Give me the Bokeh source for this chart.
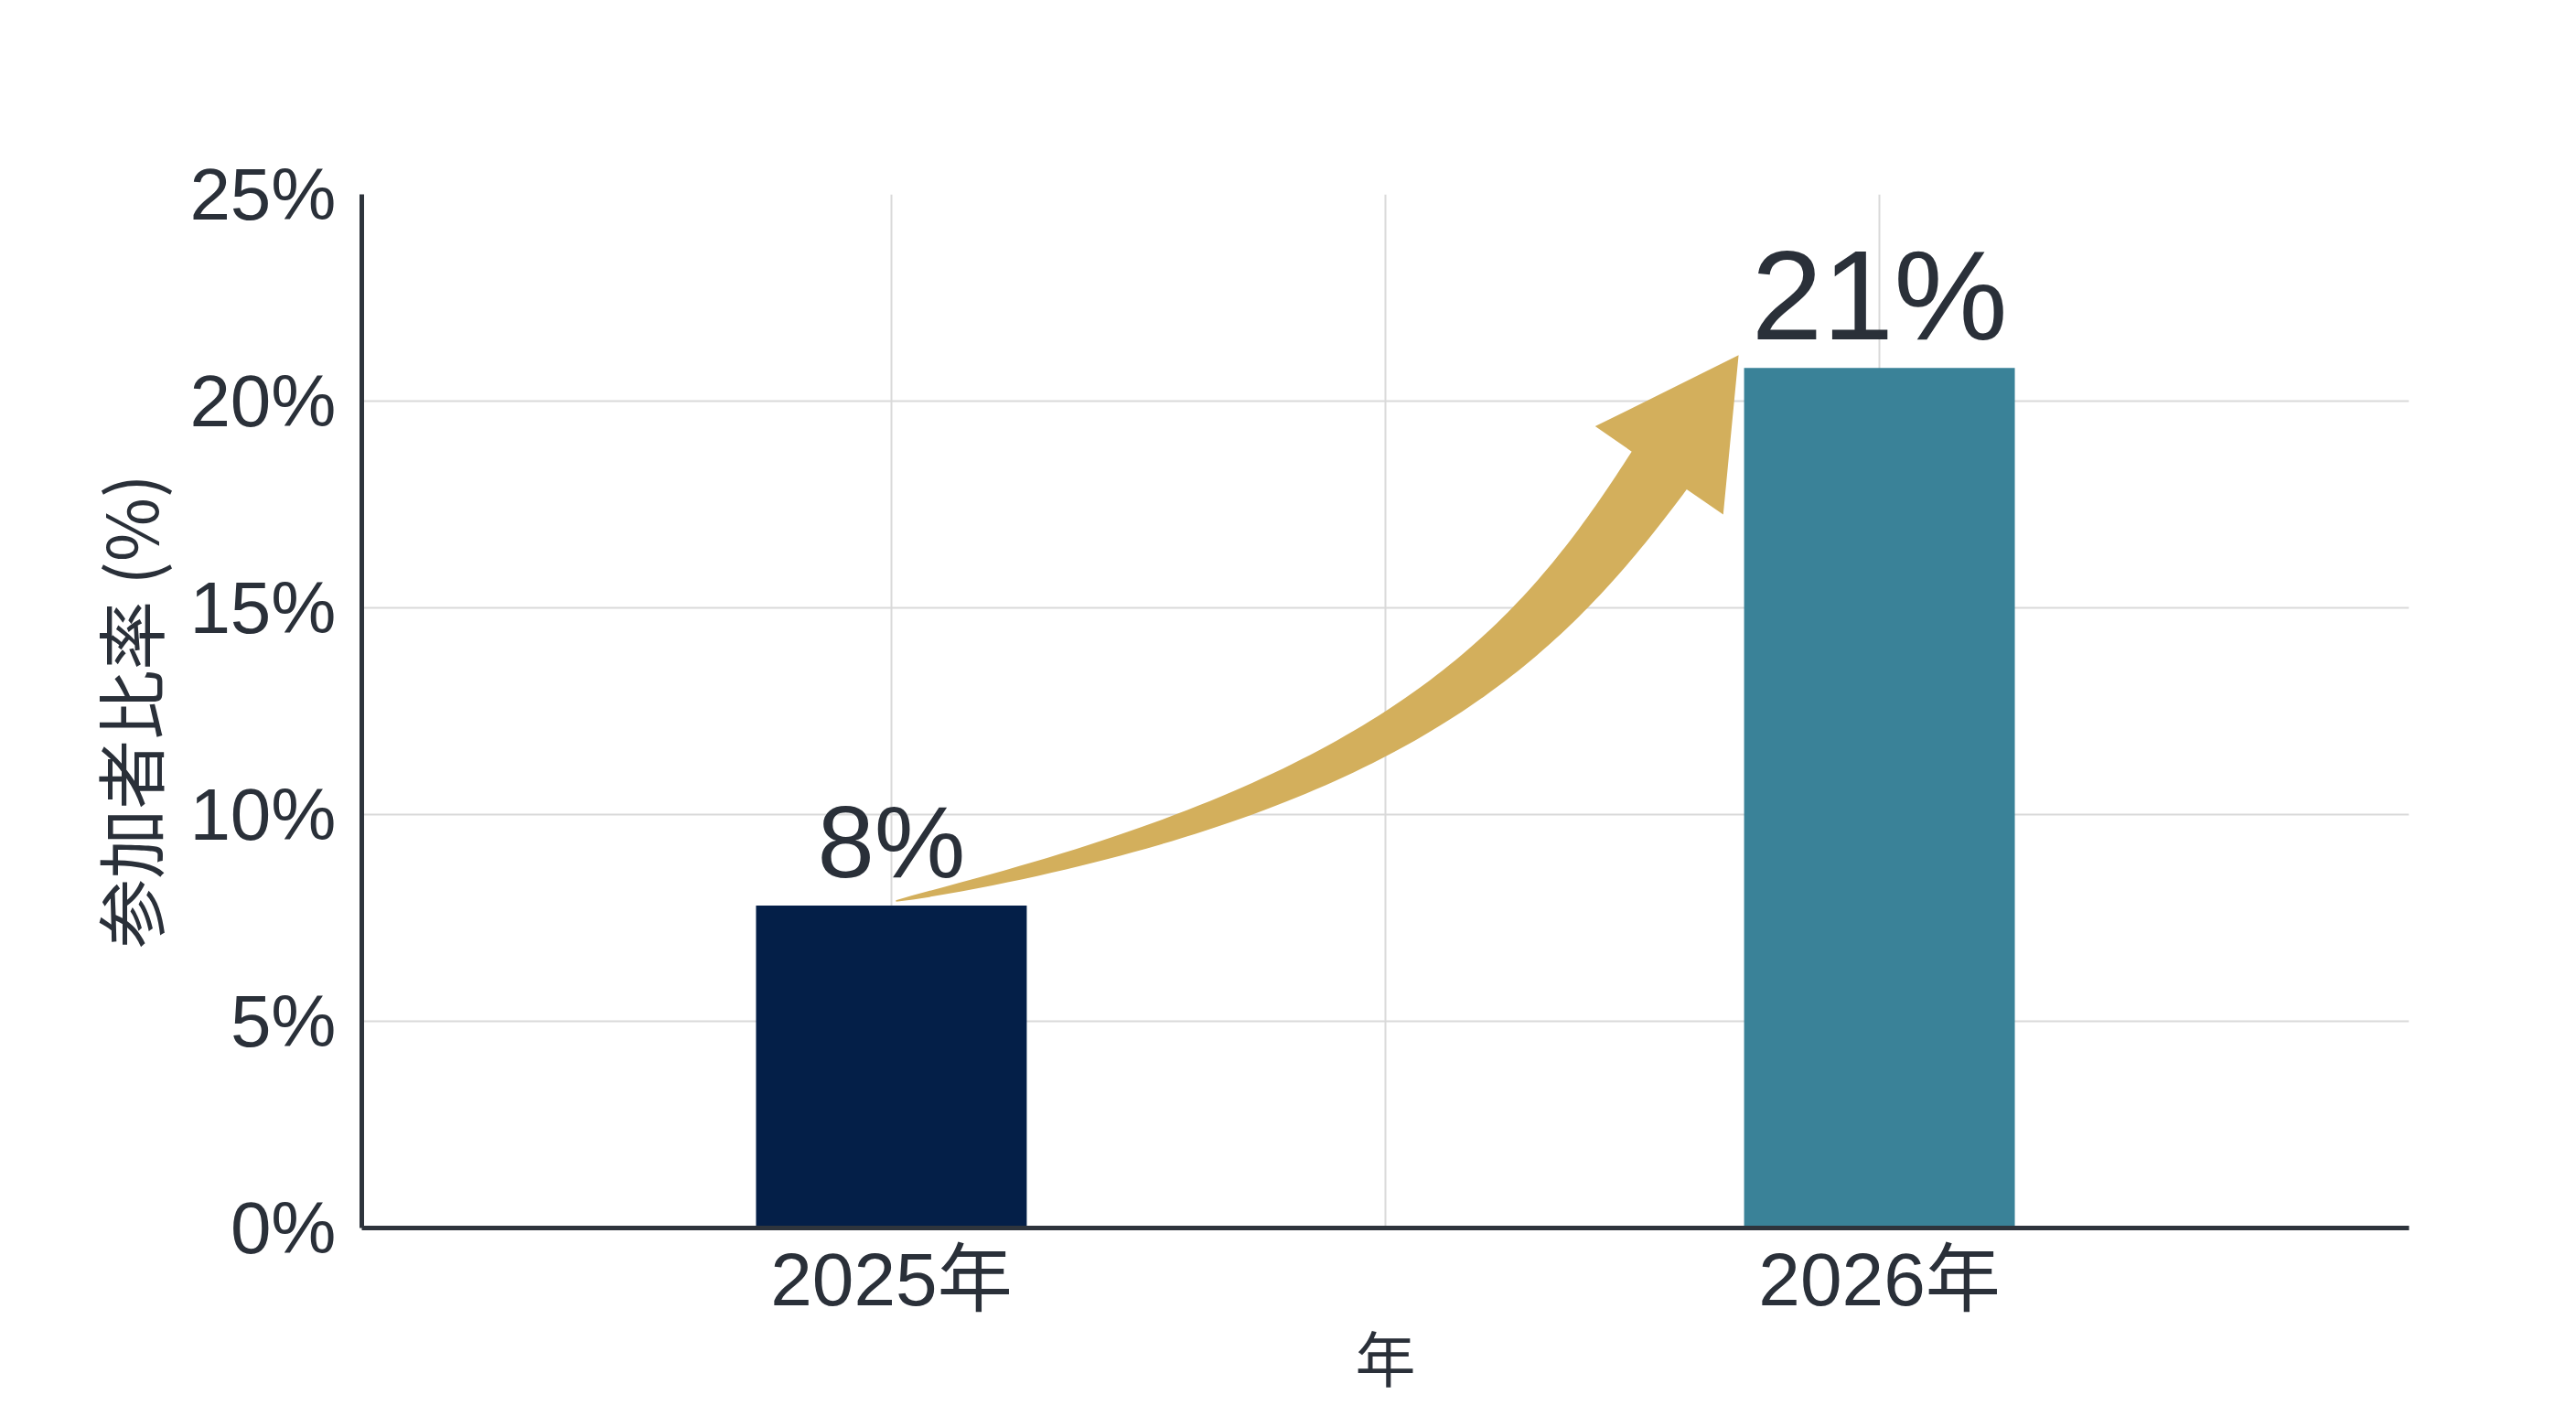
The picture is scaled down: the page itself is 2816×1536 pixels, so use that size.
import numpy as np
from bokeh.plotting import figure
from bokeh.models import Range1d, FixedTicker, PrintfTickFormatter
from bokeh.core.properties import value
from bokeh.embed import file_html
from bokeh.resources import INLINE

# ---- data ----
years = ["2025年", "2026年"]
values = [7.8, 20.8]
y_ticks = [0, 5, 10, 15, 20, 25]
y_title = "参加者比率 (%)"
x_title = "年"

# ---- style ----
bar_colors = ["#041F48", "#3A8298"]
arrow_color = "#D3AF5C"
text_color = "#2A3039"
axis_color = "#2E343C"
grid_color = "#D9D9D9"
LATIN = "'Liberation Sans', 'Noto Sans CJK JP'"
CJK = "'Noto Sans CJK JP', 'Liberation Sans'"

W, H = 2800, 1532
BL, BR, BT, BB = 395, 167, 212, 190
FW, FH = W - BL - BR, H - BT - BB
X0, X1 = -0.536, 1.536
Y0, Y1 = 0, 25
BAR_W = 0.274

x_pos = list(range(len(years)))

p = figure(width=W, height=H, x_range=Range1d(X0, X1), y_range=Range1d(Y0, Y1),
           output_backend="svg", toolbar_location=None,
           min_border_left=BL, min_border_right=BR, min_border_top=BT, min_border_bottom=BB)
p.outline_line_color = None
p.background_fill_color = "white"
p.border_fill_color = "white"

# grids
p.xgrid.ticker = FixedTicker(ticks=[x_pos[0], (x_pos[0] + x_pos[1]) / 2, x_pos[1]])
p.ygrid.ticker = FixedTicker(ticks=y_ticks)
for g in (p.xgrid, p.ygrid):
    g.grid_line_color = grid_color
    g.grid_line_width = 2

# axes
p.yaxis.ticker = FixedTicker(ticks=y_ticks)
p.yaxis.formatter = PrintfTickFormatter(format="%d%%")
p.xaxis.ticker = FixedTicker(ticks=x_pos)
p.xaxis.major_label_overrides = {i: y for i, y in zip(x_pos, years)}
p.yaxis.axis_label = y_title
p.xaxis.axis_label = x_title
for ax in (p.xaxis, p.yaxis):
    ax.axis_line_color = axis_color
    ax.axis_line_width = 5
    ax.major_tick_line_color = None
    ax.minor_tick_line_color = None
    ax.major_tick_out = 0
    ax.major_tick_in = 0
    ax.major_label_text_font = LATIN
    ax.major_label_text_color = text_color
    ax.axis_label_text_font = CJK
    ax.axis_label_text_font_style = "normal"
    ax.axis_label_text_color = text_color
p.yaxis.major_label_text_font_size = "80px"
p.xaxis.major_label_text_font_size = "82px"
p.yaxis.axis_label_text_font_size = "76px"
p.xaxis.axis_label_text_font_size = "66px"
p.yaxis.major_label_standoff = 28
p.yaxis.axis_label_standoff = 9
p.xaxis.major_label_standoff = 10
p.xaxis.axis_label_standoff = -13

# bars
p.vbar(x=x_pos, top=values, width=BAR_W, fill_color=bar_colors, line_color=None)

# ---- arrow (built from data anchors, in pixel space) ----
sx = FW / (X1 - X0)
sy = FH / (Y1 - Y0)

def to_px(x, y):
    return np.array([(x - X0) * sx, (y - Y0) * sy])

def to_data(pt):
    return X0 + pt[..., 0] / sx, Y0 + pt[..., 1] / sy

tail = to_px(x_pos[0], values[0]) + np.array([5.0, 5.0])
tip = to_px(x_pos[1] - BAR_W / 2, values[1]) + np.array([-6.0, 14.0])
u = np.array([0.567, 0.823]); u /= np.linalg.norm(u)
head_len, head_half, shaft_w = 153.0, 85.0, 73.0
C = tip - head_len * u
P0 = tail
P1 = tail + np.array([540.0, 110.0])
P2 = C - 240.0 * u
P3 = C
t = np.linspace(0, 1, 90)[:, None]
B = (1 - t) ** 3 * P0 + 3 * (1 - t) ** 2 * t * P1 + 3 * (1 - t) * t ** 2 * P2 + t ** 3 * P3
dB = 3 * (1 - t) ** 2 * (P1 - P0) + 6 * (1 - t) * t * (P2 - P1) + 3 * t ** 2 * (P3 - P2)
dB /= np.linalg.norm(dB, axis=1)[:, None]
n = np.column_stack([-dB[:, 1], dB[:, 0]])
w = (1.5 + (shaft_w - 1.5) * t[:, 0] ** 0.7)[:, None]
left = B + n * w / 2
right = B - n * w / 2
nend = np.array([-u[1], u[0]])
poly = np.vstack([left, [C + nend * head_half], [tip], [C - nend * head_half], right[::-1]])
ax_, ay_ = to_data(poly)
p.patch(list(ax_), list(ay_), fill_color=arrow_color, line_color=None)

# value labels
label_sizes = [112, 140]
for i in range(len(values)):
    fs = label_sizes[i]
    p.text(x=[x_pos[i]], y=[values[i]], text=[f"{round(values[i])}%"],
           text_font=value("Liberation Sans"), text_font_size=f"{fs}px",
           text_color=text_color, text_align="center", text_baseline="alphabetic",
           y_offset=-(28 + 0.37 * fs))

open("out.html", "w").write(file_html(p, INLINE))
